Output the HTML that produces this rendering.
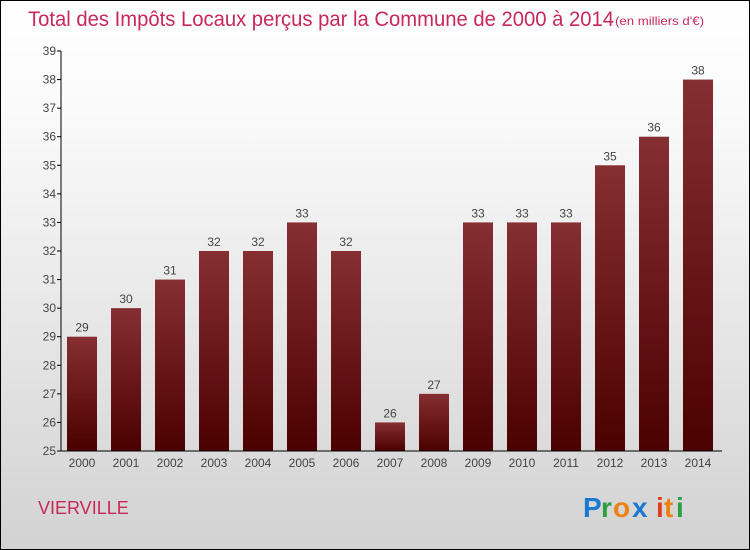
<!DOCTYPE html>
<html><head><meta charset="utf-8"><style>
body{margin:0}
#c{position:relative;width:748px;height:548px;border:1px solid #000;background:linear-gradient(#fff,#fafafa 20%,#d2d2d2);font-family:"Liberation Sans",sans-serif;overflow:hidden}
</style></head><body>
<div id="c">
<svg id="s" width="748" height="548">
<defs><linearGradient id="g" x1="0" y1="0" x2="0" y2="1"><stop offset="0" stop-color="#862f33"/><stop offset="1" stop-color="#4c0000"/></linearGradient></defs>
<text x="27" y="25" font-size="21" fill="#c8285a" textLength="586" lengthAdjust="spacingAndGlyphs">Total des Impôts Locaux perçus par la Commune de 2000 à 2014</text>
<text x="614" y="24" font-size="12" fill="#c8285a" textLength="89" lengthAdjust="spacingAndGlyphs">(en milliers d'€)</text>
<text x="37" y="513" font-size="18" fill="#c8285a">VIERVILLE</text>
<g font-size="28" font-weight="bold">
<text x="582" y="516" fill="#1a7ad0">P</text><text x="600" y="516" fill="#2aa040">r</text><text x="612" y="516" fill="#f08010">o</text><text x="631" y="516" fill="#1a7ad0">x</text><text x="655" y="516" fill="#e04020">i</text><text x="663" y="516" fill="#f08010">t</text><text x="675" y="516" fill="#2aa040">i</text>
</g>
</svg></div>
<script>
const years=["2000","2001","2002","2003","2004","2005","2006","2007","2008","2009","2010","2011","2012","2013","2014"];
const values=[29,30,31,32,32,33,32,26,27,33,33,33,35,36,38];
const yTicks=[25,26,27,28,29,30,31,32,33,34,35,36,37,38,39];
const NS="http://www.w3.org/2000/svg",s=document.getElementById('s');
const y=v=>450-(v-25)*400/14, x=i=>82+i*44-1;
function el(t,a,p){const e=document.createElementNS(NS,t);for(const k in a)e.setAttribute(k,a[k]);(p||s).appendChild(e);return e;}
yTicks.forEach(v=>{const t=el('text',{x:55,y:y(v)+4,'font-size':12,fill:'#444','text-anchor':'end'});t.textContent=v;


el('line',{x1:56,x2:60,y1:y(v),y2:y(v),stroke:'#000'});});
values.forEach((v,i)=>{const r=el('rect',{x:x(i)-15,y:y(v),width:30,height:450-y(v),fill:'url(#g)'});


const t=el('text',{x:x(i),y:y(v)-5,'font-size':12,fill:'#444','text-anchor':'middle'});t.textContent=v;


const l=el('text',{x:x(i),y:466,'font-size':12,fill:'#444','text-anchor':'middle'});l.textContent=years[i];

});
const ya=el('line',{x1:60,x2:60,y1:50,y2:450,stroke:'#000'});


const xa=el('line',{x1:60,x2:721,y1:450,y2:450,stroke:'#000'});


</script></body></html>
